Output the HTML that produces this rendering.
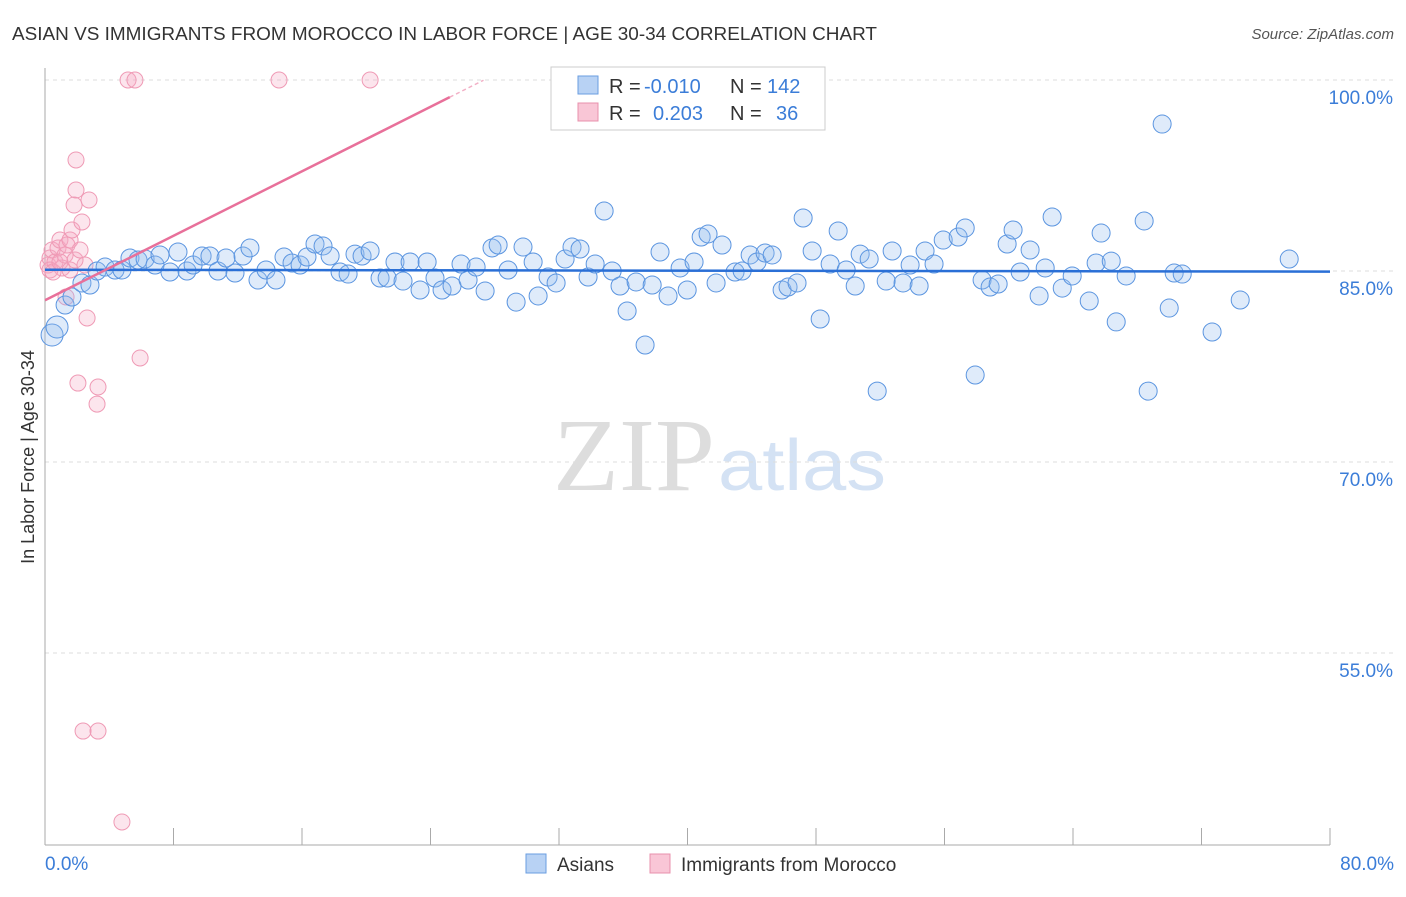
<!DOCTYPE html>
<html><head><meta charset="utf-8"><style>
body{margin:0;background:#fff;font-family:"Liberation Sans",sans-serif;}
</style></head><body>
<svg id="c" width="1406" height="892" xmlns="http://www.w3.org/2000/svg">
<text x="12" y="40" font-size="18" fill="#333" textLength="865" lengthAdjust="spacingAndGlyphs">ASIAN VS IMMIGRANTS FROM MOROCCO IN LABOR FORCE | AGE 30-34 CORRELATION CHART</text>
<text x="1394" y="39" font-size="15" fill="#555" font-style="italic" text-anchor="end">Source: ZipAtlas.com</text>
<text x="553" y="490" font-size="104" fill="#ddd" textLength="162" lengthAdjust="spacingAndGlyphs" font-family="Liberation Serif,serif">ZIP</text>
<text x="718" y="490" font-size="72" fill="#d4e2f4" textLength="168" lengthAdjust="spacingAndGlyphs">atlas</text>
<text transform="translate(34,457) rotate(-90)" font-size="18" fill="#333" text-anchor="middle">In Labor Force | Age 30-34</text>
<g id="grid"></g><g id="pts"></g><g id="lines"></g>
<g>
<rect x="551" y="67" width="274" height="63" fill="#fff" stroke="#ccc"/>
<rect x="578" y="76" width="20" height="18" fill="#b8d2f4" stroke="#6a9ee0"/>
<rect x="578" y="103" width="20" height="18" fill="#f9c6d6" stroke="#e890ac"/>
<text x="609" y="93" font-size="20" fill="#333">R =</text>
<text x="644" y="93" font-size="20" fill="#3b7dd8">-0.010</text>
<text x="730" y="93" font-size="20" fill="#333">N =</text>
<text x="767" y="93" font-size="20" fill="#3b7dd8">142</text>
<text x="609" y="120" font-size="20" fill="#333">R =</text>
<text x="653" y="120" font-size="20" fill="#3b7dd8">0.203</text>
<text x="730" y="120" font-size="20" fill="#333">N =</text>
<text x="776" y="120" font-size="20" fill="#3b7dd8">36</text>
</g>
<g>
<rect x="526" y="854" width="20" height="19" fill="#b8d2f4" stroke="#6a9ee0"/>
<text x="557" y="871" font-size="19" fill="#333">Asians</text>
<rect x="650" y="854" width="20" height="19" fill="#f9c6d6" stroke="#e890ac"/>
<text x="681" y="871" font-size="19" fill="#333">Immigrants from Morocco</text>
</g>
</svg>
<script>
const yTicks=[100,85,70,55];
const yTickLabels=["100.0%","85.0%","70.0%","55.0%"];
const xTicks=[0,8,16,24,32,40,48,56,64,72,80];
const blueX=[0.44,0.75,1.25,1.68,2.30,2.80,3.24,3.74,4.36,4.79,5.29,5.79,6.23,6.85,7.16,7.78,8.28,8.84,9.22,9.78,10.27,10.77,11.27,11.83,12.33,12.76,13.26,13.76,14.38,14.88,15.38,15.88,16.31,16.81,17.31,17.75,18.37,18.87,19.30,19.74,20.24,20.86,21.30,21.79,22.29,22.73,23.35,23.79,24.28,24.72,25.34,25.90,26.34,26.84,27.40,27.83,28.21,28.83,29.33,29.76,30.39,30.70,31.32,31.82,32.38,32.81,33.31,33.81,34.25,34.81,35.31,35.80,36.24,36.80,37.36,37.80,38.29,38.79,39.54,39.98,40.41,40.85,41.28,41.78,42.15,42.96,43.40,43.90,44.33,44.83,45.27,45.89,46.26,46.82,47.20,47.76,48.26,48.88,49.38,49.88,50.44,50.75,51.31,51.81,52.37,52.74,53.42,53.86,54.42,54.79,55.35,55.92,56.85,57.29,57.91,58.34,58.84,59.34,59.90,60.27,60.71,61.33,61.89,62.27,62.70,63.33,63.95,65.01,65.44,65.75,66.38,66.69,67.31,68.43,68.68,69.55,69.99,70.30,70.80,72.66,74.41,77.46];
const blueY=[79.97,80.60,82.33,82.96,84.06,83.90,85.00,85.31,85.08,85.08,86.02,85.86,85.94,85.47,86.26,84.92,86.49,85.00,85.47,86.18,86.18,85.00,86.02,84.84,86.18,86.81,84.29,85.08,84.29,86.10,85.63,85.47,86.10,87.12,86.96,86.18,84.92,84.76,86.33,86.18,86.57,84.45,84.45,85.71,84.21,85.71,83.51,85.71,84.45,83.51,83.82,85.55,84.29,85.31,83.43,86.81,87.04,85.08,82.56,86.88,85.71,83.04,84.53,84.06,85.94,86.88,86.73,84.53,85.55,89.71,85.00,83.82,81.86,84.14,79.19,83.90,86.49,83.04,85.24,83.51,85.71,87.67,87.91,84.06,87.04,84.92,85.00,86.26,85.71,86.41,86.26,83.51,83.74,84.06,89.16,86.57,81.23,85.55,88.14,85.08,83.82,86.33,85.94,75.57,84.21,86.57,84.06,85.47,83.82,86.57,85.55,87.43,87.67,88.38,76.83,84.29,83.74,83.98,87.12,88.22,84.92,86.65,83.04,85.24,89.24,83.66,84.61,82.64,85.63,87.98,85.78,81.00,84.61,88.93,75.57,96.54,82.09,84.84,84.76,80.21,82.72,85.94];
const pinkX=[0.19,0.31,0.44,0.62,0.81,0.93,1.06,1.25,1.37,1.56,1.68,1.81,1.93,1.93,2.05,2.30,2.49,2.62,2.74,3.30,3.24,2.37,3.30,4.79,5.17,5.60,5.92,14.57,20.24,1.31,0.31,0.50,0.93,1.56,1.87,2.18];
const pinkY=[85.47,86.02,86.65,85.71,86.81,87.43,85.24,86.26,87.04,87.43,88.22,90.18,93.72,91.36,76.20,88.85,85.47,81.31,90.58,75.89,74.55,48.87,48.87,41.73,100,100,78.17,100,100,82.96,85.08,84.92,85.71,85.08,85.86,86.65];
const blueFit=[85.1,84.95];
const pinkFit=[82.7,0.633];
const NS="http://www.w3.org/2000/svg";
const X=v=>45+v/80*1285, Y=v=>80+(100-v)/15*191;
function mk(p,tag,a){const e=document.createElementNS(NS,tag);for(const k in a)e.setAttribute(k,a[k]);document.getElementById(p).appendChild(e);return e;}
yTicks.forEach((t,i)=>{
 const l=mk('grid','line',{x1:45,x2:1394,y1:Y(t),y2:Y(t),stroke:'#ddd','stroke-dasharray':'4 4'});
 
 
 const tx=mk('grid','text',{x:1393,y:Y(t)+24,'font-size':19,fill:'#3b7dd8','text-anchor':'end'});
 tx.textContent=yTickLabels[i];
 
 
});
let ax=mk('grid','line',{x1:45,x2:45,y1:68,y2:845,stroke:'#aaa'});


ax=mk('grid','line',{x1:45,x2:1330,y1:845,y2:845,stroke:'#aaa'});


xTicks.forEach(t=>{const l=mk('grid','line',{x1:X(t),x2:X(t),y1:828,y2:845,stroke:'#aaa'});
 
 });
let t0=mk('grid','text',{x:45,y:870,'font-size':19,fill:'#3b7dd8'});t0.textContent='0.0%';


t0=mk('grid','text',{x:1394,y:870,'font-size':19,fill:'#3b7dd8','text-anchor':'end'});t0.textContent='80.0%';


pinkX.forEach((x,i)=>{const c=mk('pts','circle',{cx:X(x),cy:Y(pinkY[i]),r:8,fill:'rgba(246,170,195,0.3)',stroke:'#ef9ab5','stroke-width':1});
 
 });
blueX.forEach((x,i)=>{const c=mk('pts','circle',{cx:X(x),cy:Y(blueY[i]),r:(i<2?11:9),fill:'rgba(150,190,240,0.3)',stroke:'#5b95e0','stroke-width':1});
 
 });
let ln=mk('lines','line',{x1:X(0),x2:X(80),y1:Y(blueFit[0]),y2:Y(blueFit[1]),stroke:'#2a6fd6','stroke-width':2.5});


ln=mk('lines','line',{x1:X(0),x2:X(25.2),y1:Y(pinkFit[0]),y2:Y(pinkFit[0]+pinkFit[1]*25.2),stroke:'#e8709a','stroke-width':2.5});


ln=mk('lines','line',{x1:X(25.2),x2:X(27.3),y1:Y(pinkFit[0]+pinkFit[1]*25.2),y2:Y(pinkFit[0]+pinkFit[1]*27.3),stroke:'#f2b0c6','stroke-width':1.5,'stroke-dasharray':'4 3'});


</script>
</body></html>
